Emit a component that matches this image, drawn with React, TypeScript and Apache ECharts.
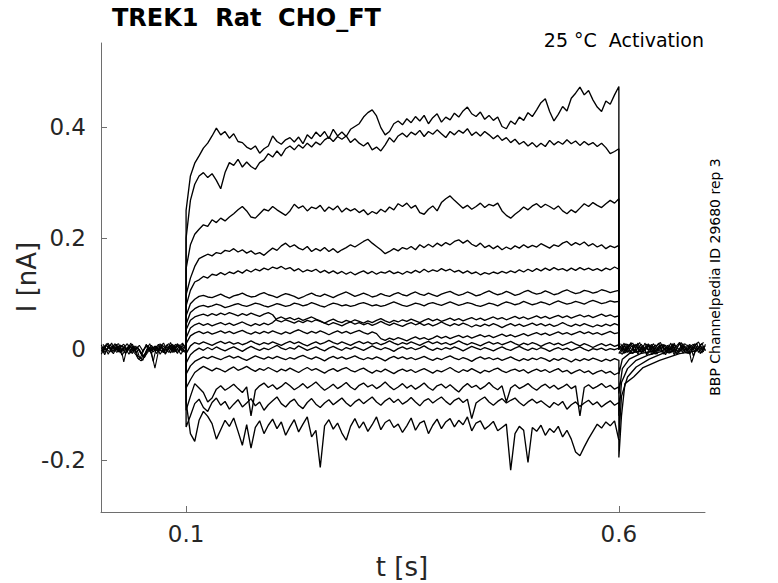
import React, { useEffect, useRef } from "react";
import * as echarts from "echarts";

// ---- axis ranges and ticks (s, nA) ----
const X_MIN = 0.0017;
const X_MAX = 0.6995;
const Y_MIN = -0.2932;
const Y_MAX = 0.5514;
const X_TICKS = [0.1, 0.6];
const Y_TICKS = [-0.2, 0, 0.2, 0.4];

// ---- sampling of the traces (values below are in pA) ----
const PULSE_START = 0.1;
const PULSE_STEP = 0.005;
const PRE_STEP = 0.004;
const POST_START = 0.6;
const POST_STEP = 0.004;

const trace1 = [250, 312, 335, 348, 362, 371, 384, 398, 386, 392, 380,
  388, 374, 372, 364, 360, 366, 353, 361, 366, 384,
  374, 369, 377, 381, 373, 382, 370, 386, 379, 391,
  383, 392, 379, 396, 384, 391, 383, 396, 401, 406,
  418, 426, 431, 420, 399, 386, 392, 406, 411, 404,
  415, 408, 419, 411, 421, 406, 417, 424, 409, 418,
  413, 425, 418, 429, 436, 424, 419, 427, 414, 421,
  412, 418, 401, 397, 411, 405, 418, 412, 426, 419,
  431, 444, 451, 428, 411, 423, 437, 429, 452, 461,
  472, 458, 466, 449, 436, 428, 447, 441, 458, 473];
const trace2 = [200, 268, 297, 312, 318, 309, 316, 304, 289, 318, 336,
  331, 342, 328, 337, 329, 324, 336, 341, 352, 346,
  357, 348, 361, 366, 359, 368, 362, 371, 364, 373,
  368, 377, 382, 374, 383, 378, 384, 372, 379, 371,
  366, 372, 359, 364, 357, 368, 381, 373, 384, 389,
  382, 391, 386, 394, 383, 392, 387, 395, 388, 381,
  392, 386, 394, 389, 397, 385, 391, 384, 392, 386,
  379, 385, 376, 381, 372, 378, 369, 374, 366, 372,
  364, 371, 365, 376, 368, 374, 369, 377, 370, 375,
  367, 374, 368, 372, 365, 371, 363, 352, 356, 361];
const trace3 = [145, 188, 207, 216, 224, 221, 233, 228, 236, 231, 238,
  244, 251, 257, 249, 238, 236, 244, 252, 249, 257,
  251, 246, 241, 249, 261, 254, 258, 249, 256, 253,
  259, 248, 256, 251, 258, 247, 254, 249, 253, 246,
  251, 242, 248, 244, 252, 247, 256, 251, 262, 257,
  263, 254, 259, 246, 243, 252, 258, 249, 264, 271,
  276, 268, 261, 254, 259, 252, 257, 263, 255, 261,
  258, 263, 249, 241, 236, 243, 249, 256, 251, 258,
  262, 255, 261, 257, 252, 258, 249, 244, 251, 246,
  254, 262, 257, 264, 259, 255, 262, 268, 263, 271];
const trace4 = [98, 128, 149, 163, 167, 171, 168, 174, 172, 178, 176,
  181, 175, 179, 173, 177, 171, 174, 169, 176, 182,
  178, 186, 191, 184, 188, 182, 179, 185, 176, 181,
  177, 183, 176, 181, 174, 179, 183, 188, 184, 189,
  194, 198, 191, 185, 179, 172, 176, 181, 177, 183,
  180, 185, 179, 188, 183, 189, 184, 191, 186, 192,
  188, 194, 197, 191, 196, 189, 185, 191, 183, 187,
  181, 186, 179, 184, 180, 186, 182, 188, 183, 187,
  184, 190, 186, 182, 188, 185, 191, 194, 187, 192,
  188, 193, 186, 190, 184, 188, 181, 186, 183, 187];
const trace5 = [78, 106, 121, 125, 131, 128, 135, 133, 138, 134, 139,
  136, 141, 137, 143, 139, 144, 141, 146, 143, 148,
  145, 149, 144, 147, 141, 145, 139, 143, 140, 144,
  138, 142, 137, 141, 136, 140, 135, 139, 134, 138,
  141, 136, 140, 135, 139, 137, 141, 136, 139, 135,
  140, 137, 142, 138, 144, 139, 143, 140, 145, 141,
  144, 139, 142, 137, 141, 136, 139, 134, 138, 135,
  139, 136, 140, 137, 141, 138, 143, 139, 144, 140,
  145, 141, 146, 142, 147, 143, 145, 141, 146, 142,
  147, 143, 146, 142, 145, 141, 146, 143, 148, 144];
const trace6 = [60, 82, 90, 95, 97, 94, 93, 96, 99, 95, 92,
  96, 98, 101, 97, 94, 95, 99, 102, 98, 96,
  93, 97, 100, 98, 95, 91, 94, 98, 101, 97,
  95, 99, 96, 93, 97, 100, 103, 99, 95, 98,
  101, 98, 94, 96, 100, 97, 95, 99, 102, 98,
  96, 100, 103, 99, 97, 101, 98, 95, 99, 102,
  104, 100, 97, 99, 103, 100, 96, 98, 102, 105,
  101, 98, 100, 104, 101, 97, 99, 103, 106, 102,
  99, 101, 105, 102, 98, 100, 104, 107, 103, 100,
  102, 106, 104, 101, 103, 107, 105, 102, 104, 106];
const trace7 = [45, 66, 73, 77, 79, 76, 78, 81, 79, 75, 77,
  80, 82, 79, 77, 80, 83, 81, 78, 76, 79,
  82, 80, 77, 79, 83, 81, 78, 80, 84, 81,
  78, 76, 80, 83, 81, 78, 80, 77, 79, 82,
  84, 81, 78, 80, 77, 79, 82, 85, 82, 79,
  77, 80, 83, 81, 78, 82, 84, 81, 79, 82,
  85, 82, 79, 81, 84, 82, 79, 77, 80, 83,
  81, 78, 82, 85, 83, 80, 82, 86, 83, 80,
  82, 85, 83, 80, 84, 87, 84, 81, 83, 86,
  84, 81, 85, 88, 85, 82, 84, 87, 85, 86];
const trace8 = [35, 52, 58, 61, 63, 60, 64, 61, 65, 62, 66,
  63, 60, 64, 61, 65, 62, 59, 63, 66, 62,
  52, 49, 53, 50, 47, 51, 48, 52, 49, 53,
  50, 47, 51, 54, 50, 48, 52, 49, 53, 50,
  47, 51, 48, 52, 55, 51, 48, 52, 49, 53,
  50, 54, 51, 48, 52, 55, 51, 54, 50, 53,
  56, 52, 55, 51, 54, 57, 53, 56, 52, 55,
  58, 54, 57, 53, 56, 59, 55, 58, 54, 57,
  60, 56, 59, 55, 58, 61, 57, 60, 56, 59,
  62, 58, 61, 57, 60, 63, 59, 62, 58, 60];
const trace9 = [20, 38, 44, 47, 43, 46, 42, 45, 48, 44, 47,
  43, 46, 49, 45, 42, 46, 43, 47, 44, 48,
  55, 58, 54, 57, 53, 56, 52, 55, 58, 54,
  51, 47, 44, 48, 45, 42, 46, 49, 45, 48,
  44, 47, 43, 46, 50, 46, 43, 47, 44, 41,
  45, 48, 44, 47, 43, 46, 42, 45, 49, 45,
  42, 46, 43, 47, 44, 40, 44, 41, 45, 42,
  46, 43, 39, 43, 46, 42, 45, 41, 44, 47,
  43, 46, 42, 45, 41, 44, 48, 44, 41, 45,
  42, 46, 43, 40, 44, 41, 45, 42, 46, 43];
const trace10 = [10, 24, 29, 32, 28, 31, 27, 30, 33, 29, 32,
  28, 31, 34, 30, 27, 31, 28, 32, 29, 33,
  30, 27, 31, 28, 32, 35, 31, 28, 32, 29,
  33, 30, 26, 30, 33, 29, 32, 28, 31, 34,
  30, 27, 31, 28, 19, 16, 20, 17, 21, 18,
  15, 19, 22, 18, 21, 17, 20, 24, 20, 23,
  19, 22, 25, 21, 24, 20, 23, 26, 22, 25,
  21, 24, 27, 23, 26, 22, 25, 28, 24, 27,
  30, 26, 29, 25, 28, 31, 27, 30, 26, 29,
  32, 28, 31, 27, 30, 26, 29, 32, 28, 30];
const trace11 = [-8, 6, 12, 9, 13, 10, 7, 11, 14, 10, 13,
  9, 12, 8, 11, 15, 11, 8, 12, 9, 13,
  10, 7, 11, 14, 10, 13, 9, 6, 10, 13,
  9, 12, 16, 12, 9, 13, 10, 7, 11, 14,
  10, 13, 9, 12, 8, 11, 15, 11, 8, 12,
  9, 13, 10, 7, 11, 14, 10, 13, 9, 12,
  8, 11, 15, 11, 8, 12, 9, 6, 10, 13,
  9, 12, 8, 11, 14, 10, 7, 11, 8, 12,
  9, 5, 9, 12, 8, 11, 7, 10, 13, 9,
  6, 10, 7, 3, 7, 10, 6, 9, 5, 8];
const trace12 = [-25, -10, -3, 2, -2, 3, -1, 4, 0, -3, 1,
  4, 0, -4, 1, 5, 1, -2, 2, -1, 3,
  7, 2, -1, 3, 0, 6, 2, -2, 1, 4,
  0, -3, 2, 5, 1, -2, 3, 0, 4, 1,
  -2, 2, 6, 2, -1, 3, 0, -4, 1, 4,
  0, 3, -1, 2, 6, 1, -2, 2, -1, 3,
  0, 4, 1, -3, 1, 5, 2, -1, 3, 0,
  -3, 1, 4, 0, -2, 2, 5, 1, -2, 2,
  -1, 3, 0, -4, 0, 3, -1, 2, -2, 1,
  4, 0, -3, 1, -1, 2, -2, 1, -1, 2];
const trace13 = [-45, -30, -22, -18, -14, -17, -13, -16, -19, -15, -12,
  -16, -13, -17, -20, -16, -12, -15, -18, -14, -17,
  -13, -16, -19, -15, -18, -14, -11, -15, -18, -14,
  -17, -21, -16, -13, -17, -14, -18, -15, -12, -16,
  -19, -15, -18, -14, -17, -21, -16, -13, -17, -14,
  -18, -15, -19, -16, -13, -17, -20, -16, -19, -15,
  -12, -16, -19, -15, -18, -22, -17, -14, -18, -15,
  -19, -16, -20, -17, -14, -18, -21, -17, -20, -16,
  -19, -15, -18, -22, -17, -20, -16, -19, -23, -18,
  -21, -17, -20, -16, -19, -22, -18, -21, -17, -20];
const trace14 = [-70, -55, -42, -36, -31, -35, -39, -34, -37, -41, -36,
  -32, -38, -35, -31, -36, -40, -35, -38, -33, -37,
  -41, -36, -39, -34, -38, -42, -37, -33, -38, -35,
  -39, -43, -38, -35, -40, -36, -33, -38, -41, -37,
  -34, -39, -43, -38, -41, -36, -40, -44, -39, -36,
  -40, -37, -42, -38, -35, -39, -43, -38, -41, -37,
  -33, -38, -42, -37, -40, -35, -39, -43, -38, -41,
  -37, -34, -39, -42, -38, -36, -40, -37, -43, -39,
  -36, -40, -37, -42, -38, -35, -41, -38, -44, -40,
  -37, -42, -39, -45, -41, -38, -43, -40, -46, -42];
const trace15 = [-110, -85, -62, -70, -78, -95, -88, -72, -66, -74, -69,
  -63, -71, -78, -68, -120, -74, -66, -61, -69, -64,
  -72, -67, -60, -66, -73, -68, -62, -70, -65, -59,
  -67, -74, -69, -63, -71, -66, -60, -68, -73, -65,
  -61, -68, -64, -71, -66, -59, -67, -73, -68, -62,
  -70, -65, -72, -67, -61, -69, -74, -66, -63, -70,
  -64, -71, -77, -68, -62, -69, -65, -72, -67, -60,
  -68, -73, -66, -95, -70, -64, -71, -67, -62, -69,
  -74, -67, -63, -70, -65, -72, -68, -63, -71, -66,
  -120, -69, -64, -71, -67, -62, -69, -65, -72, -68];
const trace16 = [-140, -120, -98, -90, -105, -112, -96, -88, -101, -94, -108,
  -99, -91, -104, -97, -89, -102, -95, -110, -100, -93,
  -86, -98, -104, -95, -90, -101, -107, -96, -89, -99,
  -105, -97, -91, -100, -94, -88, -97, -103, -95, -90,
  -98, -92, -86, -95, -101, -93, -88, -96, -90, -99,
  -94, -87, -95, -102, -93, -89, -97, -91, -86, -94,
  -100, -92, -88, -96, -90, -125, -97, -91, -86, -95,
  -101, -94, -89, -97, -92, -88, -96, -102, -95, -90,
  -97, -93, -99, -105, -96, -101, -94, -108, -100, -95,
  -103, -97, -92, -100, -95, -104, -98, -93, -101, -96];
const trace17 = [-95, -152, -166, -128, -112, -121, -134, -162, -145, -128, -139,
  -124, -148, -173, -136, -178, -141, -129, -152, -137, -126,
  -143, -131, -155, -140, -127, -149, -135, -122, -158, -146,
  -213, -138, -127, -144, -133, -151, -164, -139, -125, -142,
  -131, -148, -136, -122, -145, -132, -127, -141, -135, -150,
  -138, -124, -146, -133, -129, -152, -137, -126, -143, -131,
  -125, -140, -128, -136, -122, -147, -133, -129, -144, -138,
  -130, -147, -141, -135, -218, -152, -139, -146, -204, -141,
  -148, -137, -155, -143, -150, -139, -158, -146, -162, -185,
  -192, -176, -161, -148, -135, -142, -131, -138, -129, -164];

// tails after the pulse: [t (s), I (pA)]
const tail13 = [[0.6, -45], [0.604, -18], [0.612, -8], [0.625, -3]];
const tail14 = [[0.6, -80], [0.604, -35], [0.612, -18], [0.625, -8], [0.64, -3]];
const tail15 = [[0.6, -120], [0.603, -60], [0.61, -35], [0.62, -20], [0.635, -10], [0.65, -4]];
const tail16 = [[0.6, -160], [0.603, -85], [0.61, -50], [0.62, -32], [0.635, -18], [0.65, -8], [0.665, -3]];
const tail17 = [[0.6, -195], [0.603, -120], [0.607, -62], [0.617, -50], [0.628, -33], [0.647, -20], [0.67, -8], [0.69, -3]];
const tailZero = [[0.6, 0]];

// baseline noise before (t = 0.002 .. 0.100) and after (t = 0.600 .. 0.700) the pulse, pA
// pre1-4 / post1-4 sit on the even grid, pre5-8 / post5-8 half a step later
const pre1 = [5, -3, 8, 2, -6, 4, 9, -2, 6, -4, 3, -8, 1, 7, -3, 5, -5, 8, 2, -6, 6, 1, -4, 9, 3];
const pre2 = [-6, 7, 0, -8, 4, -5, 2, 10, -3, 6, -12, -17, -9, 3, -6, -34, -4, 6, -7, 4, -3, 9, 2, -5, 0];
const pre3 = [9, 0, -5, 6, -2, 8, -23, 4, -7, 2, -16, -21, -14, -5, 7, -2, 9, -5, 5, 10, -6, 3, 8, -2, -7];
const pre4 = [-2, 10, 4, -4, 8, -7, 5, -5, 11, -1, 4, -9, -15, 2, -8, 6, -1, 3, -9, 1, 9, -4, 5, 11, -3];
const pre5 = [-4, 6, -9, 3, 10, -5, 1, -7, 8, -2, -10, -19, -6, 9, -4, 2, -8, 5, 11, -3, 7, -6, 10, -1, 4];
const pre6 = [8, -6, 2, 11, -3, 6, -11, -1, 4, -8, 6, -14, -20, -3, 10, -5, 3, -2, -6, 8, -1, 5, -8, 6, -4];
const pre7 = [-9, 3, 11, -5, 1, -3, 7, -8, 2, 9, -6, 0, -12, -7, 3, -22, 6, -9, 1, -4, 12, -2, -6, 3, 8];
const pre8 = [3, -10, 5, -1, 7, 10, -4, 2, -9, 4, 0, 7, -3, 6, -1, 4, -3, 10, -6, 5, -7, 8, 1, -9, 2];
const post1 = [2, 8, -4, 6, 11, -2, 5, -6, 9, 3, -5, 7, 12, -1, 4, -7, 8, 2, -4, 10, 5, -3, 7, 13, 1, 6];
const post2 = [-5, -9, 3, -6, 1, 9, -4, 6, -8, 0, 10, -3, 5, -9, 7, -2, 11, -6, 4, -1, 8, -24, -5, 3, -7, 9];
const post3 = [6, -2, 10, 0, -8, 4, 12, -5, 2, 8, -7, 1, -4, 9, -6, 3, -10, 5, 12, -4, -8, 2, 10, -6, 5, -3];
const post4 = [-8, 4, -7, 9, 3, -6, -1, 7, -10, -4, 5, -9, 8, 1, -3, 11, -5, -8, 0, 6, -2, 7, -5, 1, 10, -2];
const post5 = [10, -3, 5, -8, 8, 2, -6, 11, -2, 6, -9, 3, 9, -5, 1, 7, -4, 12, -1, -7, 4, 9, -3, 6, -5];
const post6 = [-7, 6, -1, 12, -5, 3, 9, -3, 7, -10, 2, 11, -6, 4, -2, 8, -8, 1, 10, -4, 6, -2, 11, -8, 3];
const post7 = [4, -8, 9, 1, -4, 11, -7, 3, -1, 9, -5, 6, -2, -10, 8, -4, 5, 12, -7, 2, -9, 4, -1, 8, 12];
const post8 = [-2, 11, -6, 5, 7, -9, 4, -3, 10, -6, 8, -1, 3, 7, -8, 10, -2, -5, 6, -1, 9, -12, 5, 2, -4];

const PULSES: [number[], number[][]][] = [
  [trace1, tailZero], [trace2, tailZero], [trace3, tailZero], [trace4, tailZero],
  [trace5, tailZero], [trace6, tailZero], [trace7, tailZero], [trace8, tailZero],
  [trace9, tailZero], [trace10, tailZero], [trace11, tailZero], [trace12, tailZero],
  [trace13, tail13], [trace14, tail14], [trace15, tail15], [trace16, tail16], [trace17, tail17],
];
const PRE_EVEN = [pre1, pre2, pre3, pre4];
const PRE_ODD = [pre5, pre6, pre7, pre8];
const POST_EVEN = [post1, post2, post3, post4];
const POST_ODD = [post5, post6, post7, post8];

const FONT = "'DejaVu Sans', 'Noto Sans', sans-serif";
const AXIS_COLOR = "#6e6e6e";
const TEXT_COLOR = "#262626";

function pulseData(values: number[], tail: number[][]) {
  const pts: number[][] = [[PULSE_START, 0]];
  values.forEach((v, i) => pts.push([PULSE_START + i * PULSE_STEP, v / 1000]));
  tail.forEach(([t, v]) => pts.push([t, v / 1000]));
  return pts;
}
function gridData(values: number[], start: number, step: number) {
  return values.map((v, k) => [start + step * k, v / 1000]);
}

function lineSeries(data: number[][], width: number) {
  return {
    type: "line",
    data,
    showSymbol: false,
    symbol: "none",
    silent: true,
    lineStyle: { color: "#000", width },
  };
}

export default function App() {
  const ref = useRef<HTMLDivElement>(null);
  useEffect(() => {
    if (!ref.current) return;
    const chart = echarts.init(ref.current, null, { renderer: "svg" });
    const series = [
      ...PRE_EVEN.map((a) => lineSeries(gridData(a, PRE_STEP, PRE_STEP), 1.1)),
      ...PRE_ODD.map((a) => lineSeries(gridData(a, PRE_STEP / 2, PRE_STEP), 1.1)),
      ...POST_EVEN.map((a) => lineSeries(gridData(a, POST_START, POST_STEP), 1.1)),
      ...POST_ODD.map((a) => lineSeries(gridData(a, POST_START + POST_STEP / 2, POST_STEP), 1.1)),
      ...PULSES.map(([v, t]) => lineSeries(pulseData(v, t), 1.35)),
    ];
    chart.setOption({
      animation: false,
      backgroundColor: "#fff",
      grid: { left: 101, right: 73, top: 43, bottom: 71 },
      xAxis: {
        type: "value",
        min: X_MIN,
        max: X_MAX,
        axisLine: { show: true, onZero: false, lineStyle: { color: AXIS_COLOR, width: 1 } },
        axisTick: { show: true, inside: true, length: 6, customValues: X_TICKS, lineStyle: { color: AXIS_COLOR } },
        axisLabel: {
          customValues: X_TICKS,
          margin: 10,
          fontFamily: FONT,
          fontSize: 23,
          color: TEXT_COLOR,
          formatter: (v: number) => v.toFixed(1),
        },
        splitLine: { show: false },
      },
      yAxis: {
        type: "value",
        min: Y_MIN,
        max: Y_MAX,
        axisLine: { show: true, onZero: false, lineStyle: { color: AXIS_COLOR, width: 1 } },
        axisTick: { show: true, inside: true, length: 6, customValues: Y_TICKS, lineStyle: { color: AXIS_COLOR } },
        axisLabel: {
          customValues: Y_TICKS,
          margin: 15,
          fontFamily: FONT,
          fontSize: 23,
          color: TEXT_COLOR,
          formatter: (v: number) => (Math.abs(v) < 1e-9 ? "0" : v.toFixed(1)),
        },
        splitLine: { show: false },
      },
      graphic: [
        {
          type: "text",
          x: 112,
          y: 18,
          style: {
            text: "TREK1  Rat  CHO_FT",
            font: `bold 24px ${FONT}`,
            fill: "#000",
            textAlign: "left",
            textVerticalAlign: "middle",
          },
        },
        {
          type: "text",
          x: 704,
          y: 40,
          style: {
            text: "25 °C  Activation",
            font: `19px ${FONT}`,
            fill: "#000",
            textAlign: "right",
            textVerticalAlign: "middle",
          },
        },
        {
          type: "text",
          x: 715,
          y: 277,
          rotation: Math.PI / 2,
          style: {
            text: "BBP Channelpedia ID 29680 rep 3",
            font: `14px ${FONT}`,
            fill: "#000",
            textAlign: "center",
            textVerticalAlign: "middle",
          },
        },
        {
          type: "text",
          x: 27,
          y: 277,
          rotation: Math.PI / 2,
          style: {
            text: "I [nA]",
            font: `26px ${FONT}`,
            fill: TEXT_COLOR,
            textAlign: "center",
            textVerticalAlign: "middle",
          },
        },
        {
          type: "text",
          x: 402,
          y: 567,
          style: {
            text: "t [s]",
            font: `26px ${FONT}`,
            fill: TEXT_COLOR,
            textAlign: "center",
            textVerticalAlign: "middle",
          },
        },
      ],
      series,
    });
    return () => chart.dispose();
  }, []);
  return (
    <div
      ref={ref}
      style={{ position: "fixed", left: 0, top: 0, width: 778, height: 583, background: "#fff" }}
    />
  );
}
